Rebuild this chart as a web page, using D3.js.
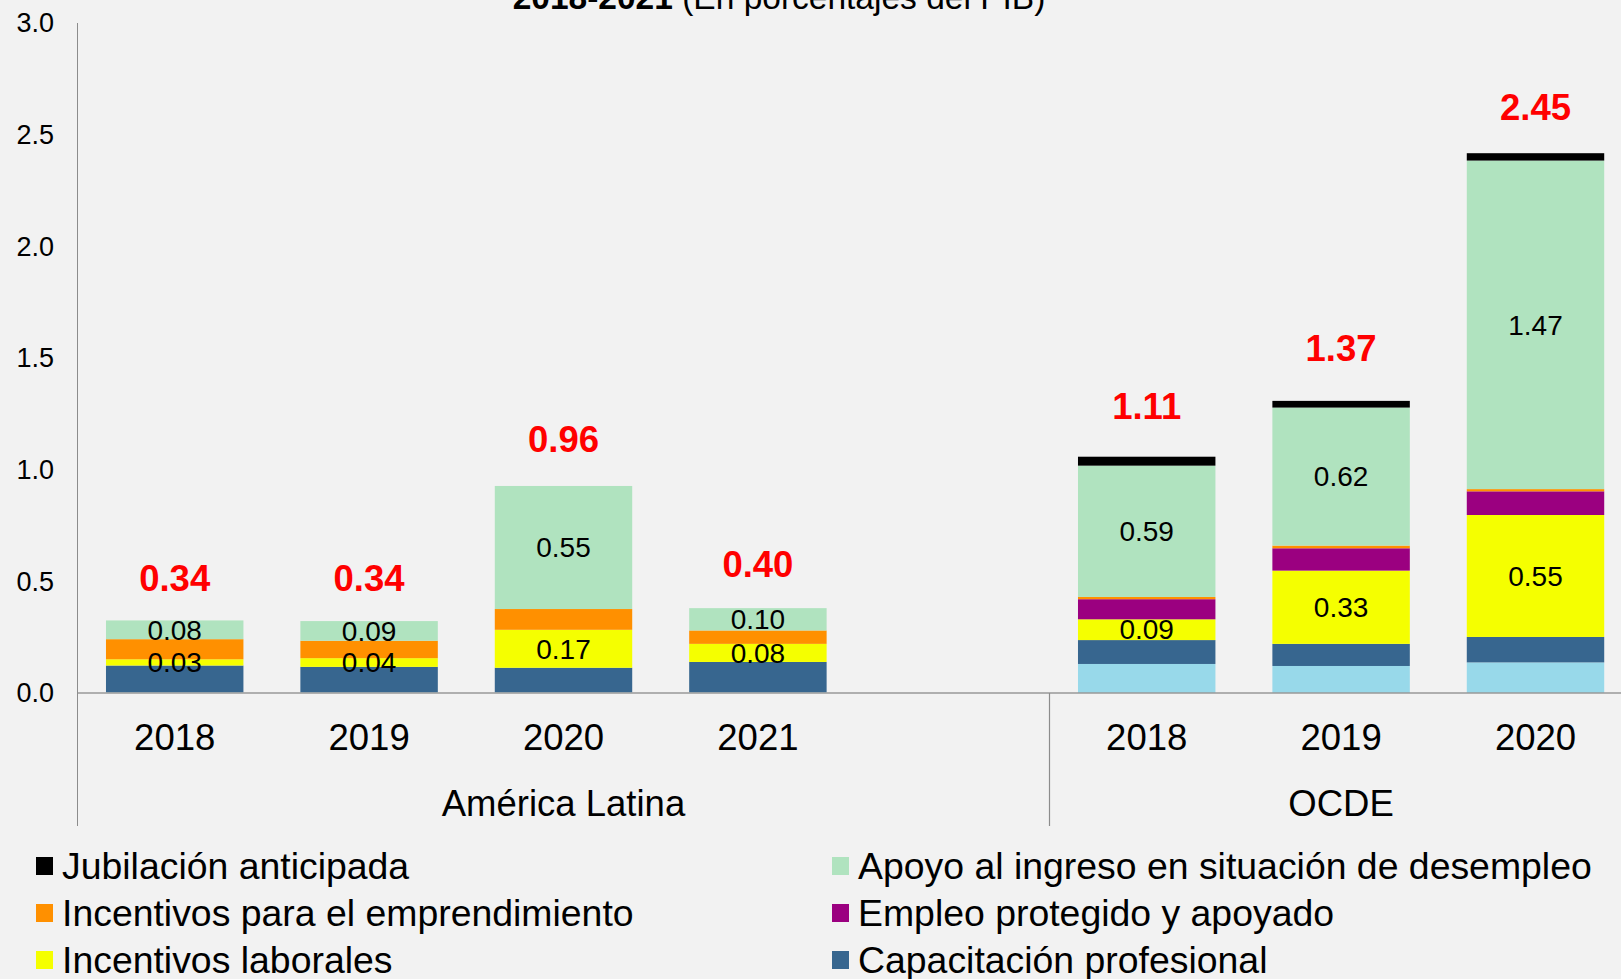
<!DOCTYPE html>
<meta charset="utf-8">
<title>Gasto en políticas activas y pasivas de mercado de trabajo</title>
<style>
  html, body { margin: 0; padding: 0; background: #f2f2f2; }
  svg { display: block; }
  text { font-family: "Liberation Sans", Arial, sans-serif; fill: #000; }
</style>
<body>
<script src="https://cdn.jsdelivr.net/npm/d3@7"></script>
<script>

// categories (one empty slot separates the two groups)
var categories = ["AL-2018", "AL-2019", "AL-2020", "AL-2021", "gap", "OCDE-2018", "OCDE-2019", "OCDE-2020"];
var yearLabels = ["2018", "2019", "2020", "2021", "", "2018", "2019", "2020"];
var groups = [
  { name: "América Latina", from: "AL-2018", to: "gap" },
  { name: "OCDE", from: "OCDE-2018", to: "OCDE-2020" }
];

// series values (porcentajes del PIB), stacked bottom to top
var servicios      = [0.003, 0.003, 0.003, 0.003, 0, 0.130, 0.121, 0.137];
var capacitacion   = [0.120, 0.114, 0.110, 0.136, 0, 0.107, 0.099, 0.114];
var laborales      = [0.028, 0.039, 0.170, 0.081, 0, 0.093, 0.328, 0.546];
var protegido      = [0.000, 0.000, 0.000, 0.000, 0, 0.090, 0.100, 0.106];
var emprendimiento = [0.090, 0.078, 0.093, 0.060, 0, 0.010, 0.012, 0.010];
var apoyo          = [0.084, 0.088, 0.551, 0.100, 0, 0.588, 0.618, 1.471];
var jubilacion     = [0.000, 0.000, 0.000, 0.000, 0, 0.040, 0.030, 0.033];

var totals = [0.34, 0.34, 0.96, 0.40, null, 1.11, 1.37, 2.45];

var yTicks = [0, 0.5, 1, 1.5, 2, 2.5, 3];

var series = [
  { key: "servicios", name: "Servicios públicos de empleo", values: servicios, color: "#98d9ea", label: false },
  { key: "capacitacion", name: "Capacitación profesional", values: capacitacion, color: "#37668f", label: false },
  { key: "laborales", name: "Incentivos laborales", values: laborales, color: "#f5ff00", label: true },
  { key: "protegido", name: "Empleo protegido y apoyado", values: protegido, color: "#9b0080", label: false },
  { key: "emprendimiento", name: "Incentivos para el emprendimiento", values: emprendimiento, color: "#ff9000", label: false },
  { key: "apoyo", name: "Apoyo al ingreso en situación de desempleo", values: apoyo, color: "#b0e3bf", label: true },
  { key: "jubilacion", name: "Jubilación anticipada", values: jubilacion, color: "#000000", label: false }
];

// legend layout: rows of two
var legendItems = ["jubilacion", "apoyo", "emprendimiento", "protegido", "laborales", "capacitacion"];

var width = 1621,
    height = 979,
    axisX = 77.5,
    step = 194.4;

var svg = d3.select("body").append("svg")
  .attr("width", width)
  .attr("height", height);

svg.append("rect").attr("width", width).attr("height", height).attr("fill", "#f2f2f2");

var x = d3.scaleBand()
  .domain(categories)
  .range([axisX, axisX + step * categories.length])
  .paddingInner(0.293)
  .paddingOuter(0.1465);

var y = d3.scaleLinear()
  .domain([0, 3])
  .range([693, 23]);

// title (cut at top of the picture)
var title = svg.append("text")
  .attr("x", 779)
  .attr("y", 9)
  .attr("text-anchor", "middle")
  .style("font-size", "33.5px");
title.append("tspan").style("font-weight", "bold").text("2018-2021");
title.append("tspan").text(" (En porcentajes del PIB)");

// y axis labels
svg.selectAll("text.ytick")
  .data(yTicks)
  .enter().append("text")
  .attr("class", "ytick")
  .attr("x", 54)
  .attr("y", function (d) { return y(d); })
  .attr("dy", "0.35em")
  .attr("text-anchor", "end")
  .style("font-size", "27px")
  .text(d3.format(".1f"));

// stacked bars
var table = categories.map(function (c, i) {
  var row = { cat: c };
  series.forEach(function (s) { row[s.key] = s.values[i]; });
  return row;
});

var stack = d3.stack().keys(series.map(function (s) { return s.key; }));
var stacked = stack(table);

var layer = svg.selectAll("g.layer")
  .data(stacked)
  .enter().append("g")
  .attr("class", "layer")
  .attr("fill", function (d, i) { return series[i].color; });

layer.selectAll("rect")
  .data(function (d) { return d.filter(function (p) { return p[1] - p[0] > 0; }); })
  .enter().append("rect")
  .attr("x", function (d) { return x(d.data.cat); })
  .attr("width", x.bandwidth())
  .attr("y", function (d) { return y(d[1]); })
  .attr("height", function (d) { return y(d[0]) - y(d[1]); });

// segment labels
stacked.forEach(function (layerData, i) {
  if (!series[i].label) return;
  svg.selectAll("text.seg-" + series[i].key)
    .data(layerData.filter(function (p) { return p[1] - p[0] > 0; }))
    .enter().append("text")
    .attr("class", "seg-" + series[i].key)
    .attr("x", function (d) { return x(d.data.cat) + x.bandwidth() / 2; })
    .attr("y", function (d) { return y((d[0] + d[1]) / 2); })
    .attr("dy", "0.35em")
    .attr("text-anchor", "middle")
    .style("font-size", "28px")
    .text(function (d) { return d3.format(".2f")(d[1] - d[0]); });
});

// totals
svg.selectAll("text.total")
  .data(categories.map(function (c, i) { return { cat: c, v: totals[i] }; }).filter(function (d) { return d.v != null; }))
  .enter().append("text")
  .attr("class", "total")
  .attr("x", function (d) { return x(d.cat) + x.bandwidth() / 2; })
  .attr("y", function (d) { return y(d.v) - 39; })
  .attr("dy", "0.35em")
  .attr("text-anchor", "middle")
  .style("font-size", "36.5px")
  .style("font-weight", "bold")
  .style("fill", "#ff0000")
  .text(function (d) { return d3.format(".2f")(d.v); });

// axis lines
svg.append("line")
  .attr("x1", axisX).attr("x2", width)
  .attr("y1", y(0)).attr("y2", y(0))
  .attr("stroke", "#999").attr("stroke-width", 1.5);

svg.append("line")
  .attr("x1", axisX).attr("x2", axisX)
  .attr("y1", y(3)).attr("y2", 826)
  .attr("stroke", "#8c8c8c").attr("stroke-width", 1);

svg.append("line")
  .attr("x1", x("OCDE-2018") - x.step() * x.paddingInner() / 2)
  .attr("x2", x("OCDE-2018") - x.step() * x.paddingInner() / 2)
  .attr("y1", y(0)).attr("y2", 826)
  .attr("stroke", "#8c8c8c").attr("stroke-width", 1.2);

// year labels
svg.selectAll("text.year")
  .data(categories.map(function (c, i) { return { cat: c, label: yearLabels[i] }; }).filter(function (d) { return d.label; }))
  .enter().append("text")
  .attr("class", "year")
  .attr("x", function (d) { return x(d.cat) + x.bandwidth() / 2; })
  .attr("y", 737)
  .attr("dy", "0.35em")
  .attr("text-anchor", "middle")
  .style("font-size", "36.5px")
  .text(function (d) { return d.label; });

// group labels
svg.selectAll("text.group")
  .data(groups)
  .enter().append("text")
  .attr("class", "group")
  .attr("x", function (g) {
    var a = x(g.from) - x.step() * x.paddingInner() / 2;
    var b = x(g.to) + x.bandwidth() + x.step() * x.paddingInner() / 2;
    return (a + b) / 2;
  })
  .attr("y", 803)
  .attr("dy", "0.35em")
  .attr("text-anchor", "middle")
  .style("font-size", "36.5px")
  .text(function (g) { return g.name; });

// legend
var legendCols = [36, 832],
    legendRows = [866, 913, 960];

var legend = svg.selectAll("g.legend")
  .data(legendItems.map(function (k) { return series.find(function (s) { return s.key === k; }); }))
  .enter().append("g")
  .attr("class", "legend")
  .attr("transform", function (d, i) {
    return "translate(" + legendCols[i % 2] + "," + legendRows[Math.floor(i / 2)] + ")";
  });

legend.append("rect")
  .attr("x", 0).attr("y", -9)
  .attr("width", 17).attr("height", 18)
  .attr("fill", function (d) { return d.color; });

legend.append("text")
  .attr("x", 26)
  .attr("y", 0)
  .attr("dy", "0.35em")
  .style("font-size", "37.4px")
  .text(function (d) { return d.name; });

</script>
</body>
